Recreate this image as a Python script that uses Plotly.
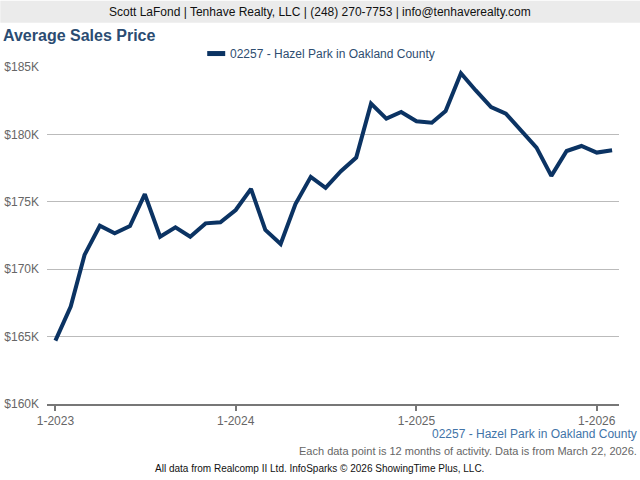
import plotly.graph_objects as go

# ---- data ----
months = [f"{y}-{m:02d}-01" for y in (2023, 2024, 2025, 2026) for m in range(1, 13)][:38]
avg_price = [
    164700, 167230, 171060, 173220, 172660, 173200, 175570, 172410, 173110, 172410, 173400, 173480,
    174390, 175960, 172910, 171870, 174830, 176850, 176040, 177270, 178280, 182280, 181170, 181660,
    180980, 180870, 181730, 184540, 183260, 182030, 181540, 180250, 179020, 176920, 178770, 179140,
    178650, 178820,
]
series_name = "02257 - Hazel Park in Oakland County"
y_ticks = [160000, 165000, 170000, 175000, 180000, 185000]
y_tick_labels = ["$160K", "$165K", "$170K", "$175K", "$180K", "$185K"]
x_ticks = ["2023-01-01", "2024-01-01", "2025-01-01", "2026-01-01"]
x_tick_labels = ["1-2023", "1-2024", "1-2025", "1-2026"]

W, H = 640, 480
ML, MR, MT, MB = 46.7, 21, 66.5, 75.5
PW, PH = W - ML - MR, H - MT - MB


def px(x):
    return (x - ML) / PW


def py(y):
    return (H - MB - y) / PH


FONT = "Liberation Sans, Arial, sans-serif"
NAVY = "#0b3363"

fig = go.Figure()
fig.add_trace(go.Scatter(
    x=months, y=avg_price, mode="lines", name=series_name,
    line=dict(color=NAVY, width=4), showlegend=False,
))

fig.update_layout(
    width=W, height=H,
    margin=dict(l=ML, r=MR, t=MT, b=MB, pad=0, autoexpand=False),
    paper_bgcolor="white", plot_bgcolor="white",
    font=dict(family=FONT, size=12, color="#666666"),
    xaxis=dict(
        type="date", range=["2022-12-15", "2026-02-15"],
        tickvals=x_ticks, ticktext=x_tick_labels, automargin=False,
        showgrid=False, zeroline=False,
        showline=True, linecolor="#777777", linewidth=2,
        ticks="outside", ticklen=5, tickwidth=2, tickcolor="#777777",
        tickfont=dict(family=FONT, size=12, color="#666666"),
    ),
    yaxis=dict(
        range=[160000, 185000], tickvals=y_ticks, ticktext=y_tick_labels,
        showgrid=True, gridcolor="#bbbbbb", gridwidth=1, automargin=False,
        zeroline=False, showline=False, ticks="",
        ticklabelstandoff=7,
        tickfont=dict(family=FONT, size=12, color="#666666"),
    ),
    shapes=[
        dict(type="rect", xref="paper", yref="paper",
             x0=px(0), x1=px(W), y0=py(22), y1=py(0),
             fillcolor="#ebebeb", line=dict(width=0), layer="below"),
        dict(type="line", xref="paper", yref="paper",
             x0=px(207), x1=px(225), y0=py(53), y1=py(53),
             line=dict(color=NAVY, width=5)),
    ],
    annotations=[
        dict(text="Scott LaFond | Tenhave Realty, LLC | (248) 270-7753 | info@tenhaverealty.com",
             xref="paper", yref="paper", x=px(320), y=py(11), xanchor="center", yanchor="middle",
             showarrow=False, font=dict(family=FONT, size=12, color="#111111")),
        dict(text="<b>Average Sales Price</b>",
             xref="paper", yref="paper", x=px(1), y=py(35), xanchor="left", yanchor="middle",
             showarrow=False, font=dict(family=FONT, size=16, color="#2b4c72")),
        dict(text=series_name,
             xref="paper", yref="paper", x=px(228), y=py(53), xanchor="left", yanchor="middle",
             showarrow=False, font=dict(family=FONT, size=12, color="#2e4d70")),
        dict(text=series_name,
             xref="paper", yref="paper", x=px(639), y=py(435), xanchor="right", yanchor="middle",
             showarrow=False, font=dict(family=FONT, size=12, color="#4274a8")),
        dict(text="Each data point is 12 months of activity. Data is from March 22, 2026.",
             xref="paper", yref="paper", x=px(639), y=py(452), xanchor="right", yanchor="middle",
             showarrow=False, font=dict(family=FONT, size=11, color="#666666")),
        dict(text="All data from Realcomp II Ltd. InfoSparks © 2026 ShowingTime Plus, LLC.",
             xref="paper", yref="paper", x=px(319), y=py(469), xanchor="center", yanchor="middle",
             showarrow=False, font=dict(family=FONT, size=10, color="#111111")),
    ],
)

fig.write_html(
    "out.html",
    config={"displayModeBar": False},
    post_script="document.body.style.margin='0';document.body.style.overflow='hidden';",
)
